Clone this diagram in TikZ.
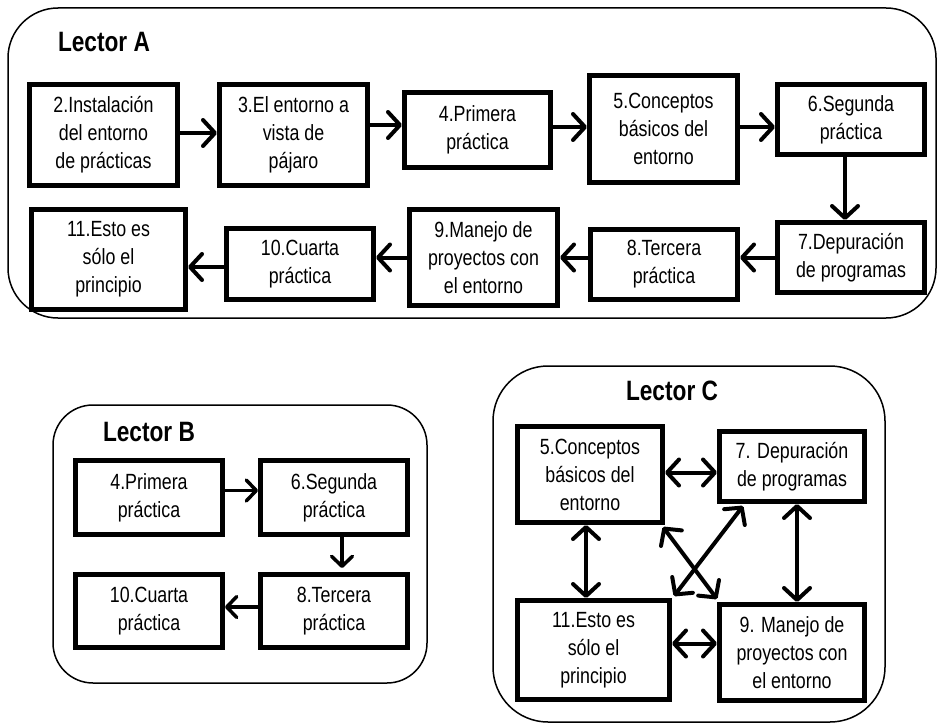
\documentclass[tikz,border=0pt]{standalone}
\usepackage{fontspec}
\setmainfont[FakeStretch=0.81]{Liberation Sans}
\usetikzlibrary{arrows.meta,calc}
\begin{document}
\begin{tikzpicture}[x=1pt,y=-1pt,
  box/.style={draw,line width=5pt,align=center,inner sep=0pt,
    font=\fontsize{22}{28}\selectfont},
  grp/.style={draw,line width=1.5pt,rounded corners=#1},
  ttl/.style={font=\fontsize{28}{30}\selectfont\bfseries,inner sep=0pt},
  tipa/.style={Straight Barb[length=12pt,width=26pt,line cap=round,line join=round]},
  arr/.style={line width=4pt,-{Straight Barb[length=12pt,width=26pt,line cap=round,line join=round]}},
  arrb/.style={line width=3.5pt,-{Straight Barb[length=10pt,width=21pt,line cap=round,line join=round]}},
  arrc/.style={line width=4pt,{Straight Barb[length=12pt,width=26pt,line cap=round,line join=round]}-{Straight Barb[length=12pt,width=26pt,line cap=round,line join=round]}},
]
\useasboundingbox (0,0) rectangle (939,725);

% ---------- Lector A ----------
\draw[grp=50pt] (8,8) rectangle (936,318);
\node[ttl] (TA) at (104,42) {Lector A};

\node[box,minimum width=148pt,minimum height=101pt] (A2) at (103.5,135) {2.Instalación\\del entorno\\de prácticas};
\node[box,minimum width=148pt,minimum height=101pt] (A3) at (293.5,135) {3.El entorno a\\vista de\\pájaro};
\node[box,minimum width=146pt,minimum height=75pt] (A4) at (477.5,130) {4.Primera\\práctica};
\node[box,minimum width=148pt,minimum height=107pt] (A5) at (663.5,129) {5.Conceptos\\básicos del\\entorno};
\node[box,minimum width=147pt,minimum height=70pt] (A6) at (851,119.5) {6.Segunda\\práctica};
\node[box,minimum width=147pt,minimum height=70pt] (A7) at (851,257.5) {7.Depuración\\de programas};
\node[box,minimum width=147pt,minimum height=70pt] (A8) at (664,264.5) {8.Tercera\\práctica};
\node[box,minimum width=148pt,minimum height=96pt] (A9) at (483.5,257.5) {9.Manejo de\\proyectos con\\el entorno};
\node[box,minimum width=147pt,minimum height=71pt] (A10) at (300,264) {10.Cuarta\\práctica};
\node[box,minimum width=154pt,minimum height=100pt] (A11) at (108.5,259.5) {11.Esto es\\sólo el\\principio};

\draw[arr] ($(A2.east)+(0,-2)$) -- ($(A2.east -| A3.west)+(0,-2)$);
\draw[arr] ($(A4.west -| A3.east)+(0,-5)$) -- ($(A4.west)+(0,-5)$);
\draw[arr] ($(A4.east)+(0,-3)$) -- ($(A4.east -| A5.west)+(0,-3)$);
\draw[arr] ($(A5.east)+(0,-2)$) -- ($(A5.east -| A6.west)+(0,-2)$);
\draw[arr] ($(A6.south)+(-6,0)$) -- ($(A7.north)+(-6,0)$);
\draw[arr] (A7.west) -- (A7.west -| A8.east);
\draw[arr] (A8.west |- A9.east) -- (A9.east);
\draw[arr] (A9.west) -- (A9.west -| A10.east);
\draw[arr] ($(A10.west)+(0,3)$) -- ($(A10.west -| A11.east)+(0,3)$);

% ---------- Lector B ----------
\draw[grp=40pt] (53,405) rectangle (427,683);
\node[ttl] (TB) at (149,432) {Lector B};

\node[box,minimum width=147pt,minimum height=74pt] (B4) at (149,497.5) {4.Primera\\práctica};
\node[box,minimum width=147pt,minimum height=74pt] (B6) at (334,497.5) {6.Segunda\\práctica};
\node[box,minimum width=147pt,minimum height=73pt] (B10) at (149,611) {10.Cuarta\\práctica};
\node[box,minimum width=147pt,minimum height=73pt] (B8) at (334,611) {8.Tercera\\práctica};

\draw[arrb] ($(B4.east)+(0,-7)$) -- ($(B4.east -| B6.west)+(0,-7)$);
\draw[arrb,shorten >=4pt] ($(B6.south)+(8,0)$) -- ($(B8.north)+(8,0)$);
\draw[arrb] ($(B8.west)+(0,-4)$) -- ($(B8.west -| B10.east)+(0,-4)$);

% ---------- Lector C ----------
\draw[grp=55pt] (493,366) rectangle (885,722);
\node[ttl] (TC) at (672,391) {Lector C};

\node[box,minimum width=145pt,minimum height=96pt] (C5) at (590,474.5) {5.Conceptos\\básicos del\\entorno};
\node[box,minimum width=145pt,minimum height=70pt] (C7) at (792,466.5) {7. Depuración\\de programas};
\node[box,minimum width=152pt,minimum height=99pt] (C11) at (593.5,650) {11.Esto es\\sólo el\\principio};
\node[box,minimum width=145pt,minimum height=96pt] (C9) at (792,652.5) {9. Manejo de\\proyectos con\\el entorno};

\draw[arrc] ($(C5.east)+(0,-2)$) -- ($(C5.east -| C7.west)+(0,-2)$);
\draw[arrc] ($(C5.south)+(-4,0)$) -- ($(C5.south |- C11.north)+(-4,0)$);
\draw[arrc] ($(C7.south)+(5,0)$) -- ($(C7.south |- C9.north)+(5,0)$);
\draw[arrc] ($(C9.west)+(0,-9)$) -- ($(C9.west -| C11.east)+(0,-9)$);
\draw[arrc] ($(C5.south east)+(-2,2)$) -- ($(C9.north west)+(0,-3)$);
\draw[arrc] ($(C7.south west)+(26,2)$) -- ($(C11.north east)+(2,-2)$);
\end{tikzpicture}
\end{document}
